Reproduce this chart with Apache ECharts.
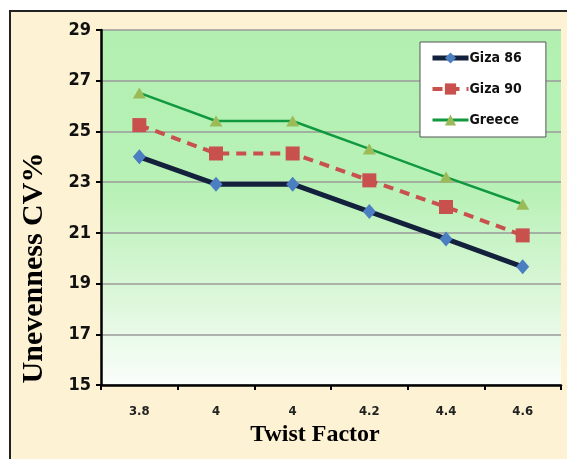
<!DOCTYPE html>
<html><head><meta charset="utf-8">
<script src="https://cdn.jsdelivr.net/npm/echarts@6/dist/echarts.min.js"></script>
<style>html,body{margin:0;padding:0;background:#fff}#c{width:567px;height:459px}</style>
</head><body><div id="c"></div>
<script>
const categories = ['3.8', '4', '4', '4.2', '4.4', '4.6'];
const giza86 = [24.0, 22.92, 22.92, 21.84, 20.76, 19.66];
const giza90 = [25.25, 24.13, 24.13, 23.07, 22.02, 20.9];
const greece = [26.52, 25.41, 25.41, 24.31, 23.2, 22.13];
const seriesNames = ['Giza 86', 'Giza 90', 'Greece'];
const xTitle = 'Twist Factor';
const yTitle = 'Unevenness CV%';

const chart = echarts.init(document.getElementById('c'));
const narrow = '"DejaVu Sans Condensed", "Liberation Sans Narrow", "Open Sans", sans-serif';
const serif = '"Liberation Serif", "DejaVu Serif", serif';
chart.setOption({
  animation: false,
  graphic: [{
    type: 'rect', z: -10, silent: true,
    shape: { x: 10, y: 11, width: 620, height: 520 },
    style: { fill: '#fdf2d3', stroke: '#222', lineWidth: 2 }
  }, {
    type: 'text', x: 34, y: 268, rotation: Math.PI / 2, silent: true,
    style: { text: yTitle, font: 'bold 30px ' + serif, fill: '#000', align: 'center', verticalAlign: 'middle' }
  }, {
    type: 'text', x: 315, y: 435, silent: true,
    style: { text: xTitle, font: 'bold 24px ' + serif, fill: '#000', align: 'center', verticalAlign: 'middle' }
  }],
  grid: {
    left: 101, right: 6, top: 30, bottom: 74,
    show: true, borderWidth: 0,
    backgroundColor: {
      type: 'linear', x: 0, y: 0, x2: 0, y2: 1,
      colorStops: [
        { offset: 0, color: '#b2f0b1' },
        { offset: 0.45, color: '#b8f1b6' },
        { offset: 0.75, color: '#dcf7da' },
        { offset: 1, color: '#fafefa' }
      ]
    }
  },
  legend: {
    orient: 'vertical', left: 420, top: 42,
    backgroundColor: '#fff', borderColor: '#555', borderWidth: 1,
    padding: [9, 24, 10, 10], itemGap: 17,
    itemWidth: 36, itemHeight: 14,
    textStyle: { fontFamily: narrow, fontWeight: 'bold', fontSize: 14, color: '#111', padding: [0, 0, 0, -4] },
    data: [
      { name: seriesNames[0], lineStyle: { width: 5 } },
      { name: seriesNames[1], lineStyle: { width: 4 } },
      { name: seriesNames[2], lineStyle: { width: 3 } }
    ]
  },
  xAxis: {
    type: 'category', data: categories, boundaryGap: true,
    axisLine: { lineStyle: { color: '#000', width: 2.5 } },
    axisTick: { show: true, length: 5, lineStyle: { color: '#000', width: 2 } },
    axisLabel: { fontFamily: narrow, fontWeight: 'bold', fontSize: 13, color: '#222', margin: 20 }
  },
  yAxis: {
    type: 'value', min: 15, max: 29, interval: 2,
    axisLine: { show: true, lineStyle: { color: '#000', width: 2.5 } },
    axisTick: { show: true, length: 5, lineStyle: { color: '#000', width: 2 } },
    splitLine: { show: true, lineStyle: { color: '#9a9a9a', width: 1.5 } },
    axisLabel: { fontFamily: narrow, fontWeight: 'bold', fontSize: 18, color: '#111', margin: 10 }
  },
  series: [
    {
      name: seriesNames[0], type: 'line', data: giza86,
      symbol: 'diamond', symbolSize: [13, 15],
      lineStyle: { color: '#13213d', width: 5 },
      itemStyle: { color: '#4b7fc1', borderWidth: 0 }, z: 3
    },
    {
      name: seriesNames[1], type: 'line', data: giza90,
      symbol: 'rect', symbolSize: 14,
      lineStyle: { color: '#c8504d', width: 4, type: [10, 7] },
      itemStyle: { color: '#c8504d', borderWidth: 0 }, z: 2
    },
    {
      name: seriesNames[2], type: 'line', data: greece,
      symbol: 'triangle', symbolSize: [13, 11],
      lineStyle: { color: '#11993f', width: 2.5 },
      itemStyle: { color: '#9bbb59', borderWidth: 0 }, z: 1
    }
  ]
});
</script></body></html>
